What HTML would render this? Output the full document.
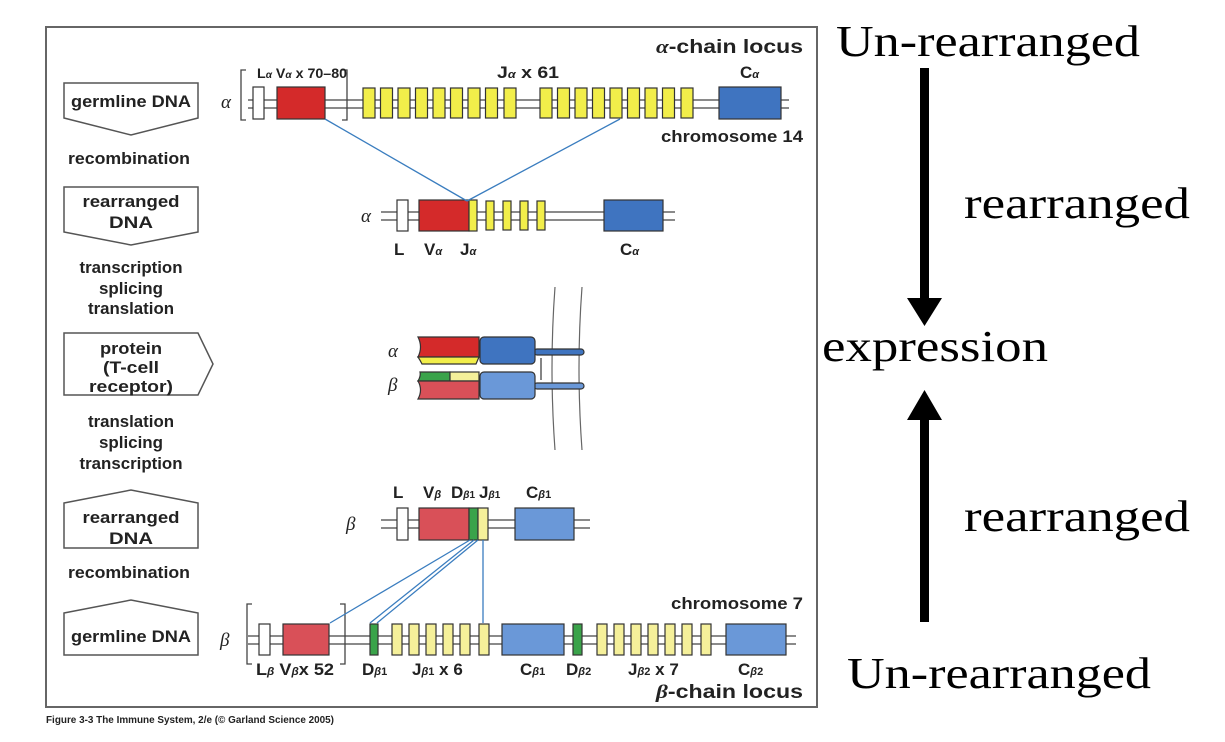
<!DOCTYPE html>
<html><head><meta charset="utf-8"><style>
html,body{margin:0;padding:0;background:#fff;}
svg{display:block;}
.s{font-family:"Liberation Sans",sans-serif;font-weight:bold;fill:#222;}
.r{font-family:"Liberation Serif",serif;fill:#000;}
</style></head><body>
<svg width="1225" height="742" viewBox="0 0 1225 742" xmlns="http://www.w3.org/2000/svg">
<rect x="46" y="27" width="771" height="680" fill="#fff" stroke="#666" stroke-width="2"/>
<g fill="#fff" stroke="#555" stroke-width="1.5">
<path d="M64 83 H198 V118 L131 135 L64 118 Z"/>
<path d="M64 187 H198 V232 L131 245 L64 232 Z"/>
<path d="M64 333 H198 L213 364 L198 395 H64 Z"/>
<path d="M64 503 L131 490 L198 503 V548 H64 Z"/>
<path d="M64 613 L131 600 L198 613 V655 H64 Z"/>
</g>
<g class="s" font-size="17" text-anchor="middle">
<text x="131" y="107" textLength="120" lengthAdjust="spacingAndGlyphs">germline DNA</text>
<text x="129" y="164" textLength="122" lengthAdjust="spacingAndGlyphs">recombination</text>
<text x="131" y="207" textLength="97" lengthAdjust="spacingAndGlyphs">rearranged</text>
<text x="131" y="228" textLength="44" lengthAdjust="spacingAndGlyphs">DNA</text>
<text x="131" y="273" textLength="103" lengthAdjust="spacingAndGlyphs">transcription</text>
<text x="131" y="294" textLength="64" lengthAdjust="spacingAndGlyphs">splicing</text>
<text x="131" y="314" textLength="86" lengthAdjust="spacingAndGlyphs">translation</text>
<text x="131" y="354" textLength="62" lengthAdjust="spacingAndGlyphs">protein</text>
<text x="131" y="373" textLength="56" lengthAdjust="spacingAndGlyphs">(T-cell</text>
<text x="131" y="392" textLength="84" lengthAdjust="spacingAndGlyphs">receptor)</text>
<text x="131" y="427" textLength="86" lengthAdjust="spacingAndGlyphs">translation</text>
<text x="131" y="448" textLength="64" lengthAdjust="spacingAndGlyphs">splicing</text>
<text x="131" y="469" textLength="103" lengthAdjust="spacingAndGlyphs">transcription</text>
<text x="131" y="523" textLength="97" lengthAdjust="spacingAndGlyphs">rearranged</text>
<text x="131" y="544" textLength="44" lengthAdjust="spacingAndGlyphs">DNA</text>
<text x="129" y="578" textLength="122" lengthAdjust="spacingAndGlyphs">recombination</text>
<text x="131" y="642" textLength="120" lengthAdjust="spacingAndGlyphs">germline DNA</text>
</g>
<g stroke="#444" stroke-width="1.3" fill="none">
<line x1="248" y1="100" x2="789" y2="100"/><line x1="248" y1="108" x2="789" y2="108"/>
<path d="M246 70 H241 V120 H246 M342 70 H347 V120 H342"/>
<line x1="381" y1="212" x2="675" y2="212"/><line x1="381" y1="220" x2="675" y2="220"/>
<line x1="381" y1="520" x2="590" y2="520"/><line x1="381" y1="528" x2="590" y2="528"/>
<line x1="248" y1="636" x2="796" y2="636"/><line x1="248" y1="644" x2="796" y2="644"/>
<path d="M252 604 H247 V664 H252 M340 604 H345 V664 H340"/>
</g>
<g fill="#fff" stroke="#fff" stroke-width="4">
<line x1="352" y1="97" x2="360" y2="97"/><line x1="352" y1="111" x2="360" y2="111"/>
<line x1="524" y1="97" x2="534" y2="97"/><line x1="524" y1="111" x2="534" y2="111"/>
</g>
<g stroke="#333" stroke-width="1.2">
<rect x="253" y="87" width="11" height="32" fill="#fff"/>
<rect x="277" y="87" width="48" height="32" fill="#d42a2a"/>
<rect x="719" y="87" width="62" height="32" fill="#3f74c0"/>
<g fill="#f2ee4a">
<rect x="363" y="88" width="12" height="30"/><rect x="380.5" y="88" width="12" height="30"/><rect x="398" y="88" width="12" height="30"/><rect x="415.5" y="88" width="12" height="30"/><rect x="433" y="88" width="12" height="30"/><rect x="450.5" y="88" width="12" height="30"/><rect x="468" y="88" width="12" height="30"/><rect x="485.5" y="88" width="12" height="30"/><rect x="504" y="88" width="12" height="30"/>
<rect x="540" y="88" width="12" height="30"/><rect x="557.5" y="88" width="12" height="30"/><rect x="575" y="88" width="12" height="30"/><rect x="592.5" y="88" width="12" height="30"/><rect x="610" y="88" width="12" height="30"/><rect x="627.5" y="88" width="12" height="30"/><rect x="645" y="88" width="12" height="30"/><rect x="662.5" y="88" width="12" height="30"/><rect x="681" y="88" width="12" height="30"/>
</g>
<rect x="397" y="200" width="11" height="31" fill="#fff"/>
<rect x="419" y="200" width="50" height="31" fill="#d42a2a"/>
<g fill="#f2ee4a"><rect x="469" y="200" width="8" height="31"/><rect x="486" y="201" width="8" height="29"/><rect x="503" y="201" width="8" height="29"/><rect x="520" y="201" width="8" height="29"/><rect x="537" y="201" width="8" height="29"/></g>
<rect x="604" y="200" width="59" height="31" fill="#3f74c0"/>
<rect x="397" y="508" width="11" height="32" fill="#fff"/>
<rect x="419" y="508" width="50" height="32" fill="#d95058"/>
<rect x="469" y="508" width="9" height="32" fill="#3aa34a"/>
<rect x="478" y="508" width="10" height="32" fill="#f5f09a"/>
<rect x="515" y="508" width="59" height="32" fill="#6a98d8"/>
<rect x="259" y="624" width="11" height="31" fill="#fff"/>
<rect x="283" y="624" width="46" height="31" fill="#d95058"/>
<rect x="370" y="624" width="8" height="31" fill="#3aa34a"/>
<g fill="#f5f09a"><rect x="392" y="624" width="10" height="31"/><rect x="409" y="624" width="10" height="31"/><rect x="426" y="624" width="10" height="31"/><rect x="443" y="624" width="10" height="31"/><rect x="460" y="624" width="10" height="31"/><rect x="479" y="624" width="10" height="31"/>
<rect x="597" y="624" width="10" height="31"/><rect x="614" y="624" width="10" height="31"/><rect x="631" y="624" width="10" height="31"/><rect x="648" y="624" width="10" height="31"/><rect x="665" y="624" width="10" height="31"/><rect x="682" y="624" width="10" height="31"/><rect x="701" y="624" width="10" height="31"/></g>
<rect x="502" y="624" width="62" height="31" fill="#6a98d8"/>
<rect x="573" y="624" width="9" height="31" fill="#3aa34a"/>
<rect x="726" y="624" width="60" height="31" fill="#6a98d8"/>
</g>
<g stroke="#3a7dbf" stroke-width="1.3">
<line x1="325" y1="119" x2="467" y2="201"/><line x1="620" y1="119" x2="467" y2="201"/>
<line x1="470" y1="540" x2="330" y2="623"/><line x1="474" y1="540" x2="370" y2="623"/><line x1="478" y1="540" x2="377" y2="623"/><line x1="483" y1="540" x2="483" y2="623"/>
</g>
<g stroke="#333" stroke-width="1.2">
<path d="M555 287 Q549 368 555 450 M582 287 Q576 368 582 450" fill="none" stroke="#666"/>
<rect x="534" y="349" width="50" height="6" rx="3" fill="#3f74c0"/>
<rect x="534" y="383" width="50" height="6" rx="3" fill="#6a98d8"/>
<path d="M418 337 H479 V357 H418 Q423 347 418 337Z" fill="#d42a2a"/>
<path d="M418 357 H479 L476 364 H422 Q420 360 418 357Z" fill="#f2ee4a"/>
<path d="M420 372 H450 V381 H418 Q421 376 420 372Z" fill="#3aa34a"/>
<rect x="450" y="372" width="29" height="9" fill="#f5f09a"/>
<path d="M418 381 H479 V399 H418 Q423 390 418 381Z" fill="#d95058"/>
<rect x="480" y="337" width="55" height="27" rx="4" fill="#3f74c0"/>
<rect x="480" y="372" width="55" height="27" rx="4" fill="#6a98d8"/>
<line x1="541" y1="358" x2="541" y2="380"/>
</g>
<g class="s" font-size="17">
<text x="656" y="53" font-size="19" textLength="147" lengthAdjust="spacingAndGlyphs"><tspan font-style="italic" font-family="Liberation Serif">α</tspan>-chain locus</text>
<text x="257" y="78" font-size="14" textLength="90" lengthAdjust="spacingAndGlyphs">L<tspan font-size="10" font-style="italic">α</tspan> V<tspan font-size="10" font-style="italic">α</tspan> x 70–80</text>
<text x="497" y="78" textLength="62" lengthAdjust="spacingAndGlyphs">J<tspan font-size="11" font-style="italic">α</tspan> x 61</text>
<text x="740" y="78">C<tspan font-size="11" font-style="italic">α</tspan></text>
<text x="661" y="142" textLength="142" lengthAdjust="spacingAndGlyphs">chromosome 14</text>
<text x="394" y="255">L</text>
<text x="424" y="255">V<tspan font-size="11" font-style="italic">α</tspan></text>
<text x="460" y="255">J<tspan font-size="11" font-style="italic">α</tspan></text>
<text x="620" y="255">C<tspan font-size="11" font-style="italic">α</tspan></text>
<text x="393" y="498">L</text>
<text x="423" y="498">V<tspan font-size="11" font-style="italic">β</tspan></text>
<text x="451" y="498">D<tspan font-size="10" font-style="italic">β</tspan><tspan font-size="10">1</tspan></text>
<text x="479" y="498">J<tspan font-size="10" font-style="italic">β</tspan><tspan font-size="10">1</tspan></text>
<text x="526" y="498">C<tspan font-size="11" font-style="italic">β</tspan><tspan font-size="11">1</tspan></text>
<text x="671" y="609" textLength="132" lengthAdjust="spacingAndGlyphs">chromosome 7</text>
<text x="256" y="675" textLength="78" lengthAdjust="spacingAndGlyphs">L<tspan font-size="11" font-style="italic">β</tspan> V<tspan font-size="11" font-style="italic">β</tspan>x 52</text>
<text x="362" y="675">D<tspan font-size="11" font-style="italic">β</tspan><tspan font-size="11">1</tspan></text>
<text x="412" y="675">J<tspan font-size="11" font-style="italic">β</tspan><tspan font-size="11">1</tspan> x 6</text>
<text x="520" y="675">C<tspan font-size="11" font-style="italic">β</tspan><tspan font-size="11">1</tspan></text>
<text x="566" y="675">D<tspan font-size="11" font-style="italic">β</tspan><tspan font-size="11">2</tspan></text>
<text x="628" y="675">J<tspan font-size="11" font-style="italic">β</tspan><tspan font-size="11">2</tspan> x 7</text>
<text x="738" y="675">C<tspan font-size="11" font-style="italic">β</tspan><tspan font-size="11">2</tspan></text>
<text x="656" y="698" font-size="19" textLength="147" lengthAdjust="spacingAndGlyphs"><tspan font-style="italic" font-family="Liberation Serif">β</tspan>-chain locus</text>
</g>
<g font-family="Liberation Serif" font-style="italic" font-size="19" fill="#222">
<text x="221" y="108">α</text><text x="361" y="222">α</text>
<text x="388" y="357">α</text><text x="388" y="391">β</text>
<text x="346" y="530">β</text><text x="220" y="646">β</text>
</g>
<text x="46" y="723" class="s" font-size="10" textLength="288" lengthAdjust="spacingAndGlyphs">Figure 3-3 The Immune System, 2/e (© Garland Science 2005)</text>
<g class="r" font-size="44">
<text x="836" y="56" textLength="304" lengthAdjust="spacingAndGlyphs">Un-rearranged</text>
<text x="964" y="218" textLength="226" lengthAdjust="spacingAndGlyphs">rearranged</text>
<text x="822" y="361" textLength="226" lengthAdjust="spacingAndGlyphs">expression</text>
<text x="964" y="531" textLength="226" lengthAdjust="spacingAndGlyphs">rearranged</text>
<text x="847" y="688" textLength="304" lengthAdjust="spacingAndGlyphs">Un-rearranged</text>
</g>
<rect x="920" y="68" width="9" height="234" fill="#000"/>
<polygon points="907,298 942,298 924.5,326" fill="#000"/>
<rect x="920" y="416" width="9" height="206" fill="#000"/>
<polygon points="907,420 942,420 924.5,390" fill="#000"/>
</svg>
</body></html>
